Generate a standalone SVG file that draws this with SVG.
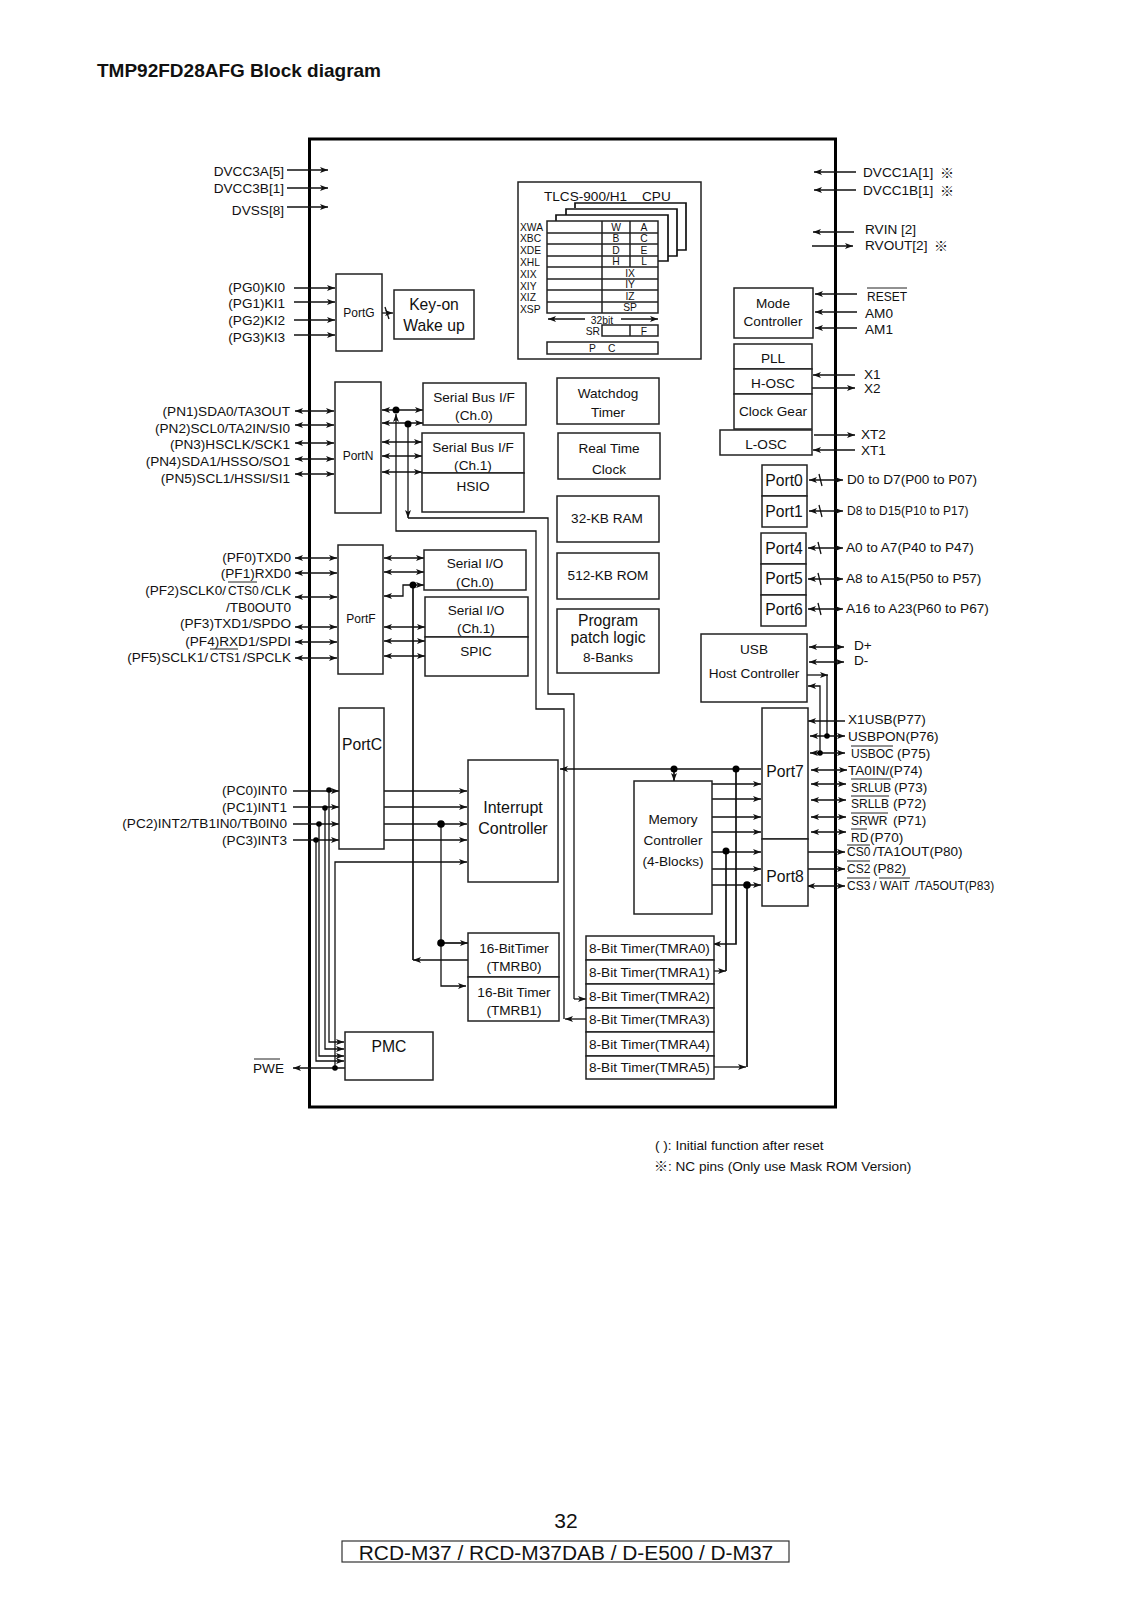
<svg xmlns="http://www.w3.org/2000/svg" width="1132" height="1600" viewBox="0 0 1132 1600">
<style>
text{font-family:"Liberation Sans",Arial,sans-serif;font-size:13.6px;fill:#111}
.e{text-anchor:end}.m{text-anchor:middle}
.s10{font-size:10.3px}.s12{font-size:12px}.s13{font-size:13.6px}.s16{font-size:15.7px}
.cjk{font-family:"Noto Sans CJK JP","Liberation Sans",sans-serif;font-size:14px}
.b{fill:#fff;stroke:#222;stroke-width:1.5}
.l{fill:none;stroke:#111;stroke-width:1.3}
.t{stroke-width:1.7}
.a{marker-end:url(#h)}
.d{marker-start:url(#h);marker-end:url(#h)}
.o{fill:none;stroke:#222;stroke-width:1}
circle{fill:#000}
</style>
<defs>
<marker id="h" markerUnits="userSpaceOnUse" markerWidth="10" markerHeight="8" refX="8" refY="3.5" orient="auto-start-reverse"><path d="M0,0.5 L8,3.5 L0,6.5 L2,3.5Z" fill="#111"/></marker>
</defs>
<rect width="1132" height="1600" fill="#fff"/>
<text id="title" x="97" y="76.5" style="font-weight:bold;font-size:19px">TMP92FD28AFG Block diagram</text>
<rect id="chip" x="309.5" y="139" width="526" height="968" fill="#fff" stroke="#000" stroke-width="3"/>

<g id="cpu">
<rect class="b" x="518" y="182" width="183" height="177"/>
<path class="l t" d="M575,208V203H686V250H677M566,215V209H677V256H668M556,221V215H668V261H658"/>
<path class="b" d="M547,221H658V313H547ZM547,233H658M547,244H658M547,256H658M547,267H658M547,279H658M547,290H658M547,302H658M602,221V313M630,221V267"/>
<path class="b" d="M602,325H658V336H602ZM630,325V336"/>
<rect class="b" x="547" y="342" width="111" height="12"/>
<path class="l a" d="M585,319H548"/><path class="l a" d="M621,319H658"/>
<text x="544" y="201">TLCS-900/H1</text><text x="642" y="201">CPU</text>
<text class="s10" x="520" y="231">XWA</text><text class="s10" x="520" y="242">XBC</text><text class="s10" x="520" y="254">XDE</text><text class="s10" x="520" y="266">XHL</text><text class="s10" x="520" y="278">XIX</text><text class="s10" x="520" y="290">XIY</text><text class="s10" x="520" y="301">XIZ</text><text class="s10" x="520" y="313">XSP</text>
<text class="s10 m" x="616" y="231">W</text><text class="s10 m" x="644" y="231">A</text><text class="s10 m" x="616" y="242">B</text><text class="s10 m" x="644" y="242">C</text><text class="s10 m" x="616" y="254">D</text><text class="s10 m" x="644" y="254">E</text><text class="s10 m" x="616" y="265">H</text><text class="s10 m" x="644" y="265">L</text>
<text class="s10 m" x="630" y="277">IX</text><text class="s10 m" x="630" y="288">IY</text><text class="s10 m" x="630" y="300">IZ</text><text class="s10 m" x="630" y="311">SP</text>
<text class="s10 m" x="602" y="324">32bit</text><text class="s10 e" x="600" y="335">SR</text><text class="s10 m" x="644" y="334.5">F</text>
<text class="s10" x="589" y="352">P</text><text class="s10" x="608" y="352">C</text>
</g>

<g id="connectors">
<path class="l t a" d="M287,170H328"/><path class="l t a" d="M287,188H328"/><path class="l t a" d="M287,207H328"/>
<path class="l t a" d="M294,288H335"/><path class="l t a" d="M294,302H335"/><path class="l t a" d="M294,320H335"/><path class="l t a" d="M294,335H335"/>
<path class="l a" d="M382,313H393"/><path class="l" d="M385,307L389,319"/>
<path class="l t d" d="M295,411H334"/><path class="l t d" d="M295,425H334"/><path class="l t d" d="M295,443H334"/><path class="l t d" d="M295,459H334"/><path class="l t d" d="M295,474H334"/>
<path class="l d" d="M382,410H423"/><path class="l d" d="M382,423H423"/><path class="l d" d="M382,442H422"/><path class="l d" d="M382,456H422"/><path class="l d" d="M382,472H422"/>
<path class="l a" d="M564,1019V709H536V531H396V414"/>
<path class="l" d="M408,518H548V694H574V999"/>
<path class="l a" d="M408,424V518"/>
<path class="l a" d="M574,999H586"/>
<path class="l a" d="M586,1019H565"/>
<path class="l t d" d="M295,558H337"/><path class="l t d" d="M295,573H337"/><path class="l t d" d="M295,597H337"/><path class="l t d" d="M295,627H337"/><path class="l t d" d="M295,642H337"/><path class="l t d" d="M295,658H337"/>
<path class="l d" d="M384,558H424"/><path class="l d" d="M384,572H424"/>
<path class="l d" d="M384,596H403V585H424"/>
<path class="l d" d="M384,627H425"/><path class="l d" d="M384,641H425"/><path class="l d" d="M384,656H425"/>
<path class="l a" d="M468,960H413"/><path class="l t" d="M413,585V960"/>
<path class="l t a" d="M293,791H339"/><path class="l t a" d="M293,807H339"/><path class="l t a" d="M293,824H339"/><path class="l t a" d="M293,840H339"/>
<path class="l a" d="M329,790V1042H344"/><path class="l a" d="M325,808V1049H344"/><path class="l a" d="M319,824V1056H344"/><path class="l a" d="M316,840V1061H344"/>
<path class="l t a" d="M345,1068H293"/>
<path class="l a" d="M335,1068V862H467"/>
<path class="l t a" d="M383,791H467"/><path class="l t a" d="M383,807H467"/><path class="l t a" d="M384,824H467"/><path class="l t a" d="M384,840H467"/>
<path class="l a" d="M441,824V986H466"/><path class="l t a" d="M441,943H468"/>
<path class="l t a" d="M761,769H560"/><path class="l t a" d="M674,769V781"/>
<path class="l a" d="M712,784H761"/><path class="l a" d="M712,799H761"/><path class="l a" d="M712,817H761"/><path class="l a" d="M712,832H761"/><path class="l a" d="M712,852H761"/><path class="l a" d="M712,869H761"/><path class="l t a" d="M712,885H761"/>
<path class="l t a" d="M736,769V944H713"/>
<path class="l t" d="M726,851V971"/><path class="l a" d="M714,971H726"/>
<path class="l t" d="M747,885V1067"/><path class="l a" d="M714,1067H746"/>
<path class="l d" d="M809,647H844"/><path class="l d" d="M809,662H844"/>
<path class="l" d="M827,736V675"/>
<path class="l a" d="M807,675H828"/>
<path class="l a" d="M820,753V686H808"/>
<path class="l t a" d="M845,721H808"/>
<path class="l t d" d="M810,736H845"/><path class="l t d" d="M810,753H845"/>
<path class="l t d" d="M811,770H847"/><path class="l t d" d="M811,784H846"/><path class="l t d" d="M811,800H846"/><path class="l t d" d="M811,817H846"/><path class="l t d" d="M811,832H846"/>
<path class="l t a" d="M808,852H845"/><path class="l t a" d="M808,869H845"/><path class="l t d" d="M807,886H845"/>
<path class="l t a" d="M856,172H814"/><path class="l t a" d="M856,190H814"/><path class="l t a" d="M854,232H813"/><path class="l t a" d="M812,246H853"/>
<path class="l t a" d="M857,294H815"/><path class="l t a" d="M857,312H815"/><path class="l t a" d="M857,328H815"/>
<path class="l t a" d="M855,375H813"/><path class="l t a" d="M812,388H855"/><path class="l t a" d="M814,435H855"/><path class="l t a" d="M855,450H813"/>
<path class="l t d" d="M809,480H843"/><path class="l t d" d="M809,511H843"/><path class="l t d" d="M808,548H843"/><path class="l t d" d="M808,579H843"/><path class="l t d" d="M808,609H843"/>
<path class="l" d="M819,474L822,486M819,505L822,517M818,542L821,554M818,573L821,585M818,603L821,615"/>
<circle cx="396" cy="410" r="3.5"/><circle cx="408" cy="424" r="3.5"/><circle cx="413" cy="585" r="3.5"/>
<circle cx="329" cy="790" r="2.8"/><circle cx="325" cy="808" r="2.8"/><circle cx="319" cy="824" r="2.8"/><circle cx="316" cy="840" r="2.8"/><circle cx="335" cy="1068" r="2.8"/>
<circle cx="441" cy="824" r="3.8"/><circle cx="441" cy="943" r="3.8"/>
<circle cx="674" cy="769" r="3.5"/><circle cx="736" cy="769" r="3.5"/><circle cx="726" cy="851" r="3.5"/><circle cx="747" cy="885" r="3.8"/>
<circle cx="827" cy="736" r="2.8"/><circle cx="820" cy="753" r="2.8"/>
</g>

<g id="portg"><rect class="b" x="336" y="274" width="46" height="77"/><text class="m s12" x="359" y="317">PortG</text></g>
<g id="keyon"><rect class="b" x="394" y="290" width="80" height="49"/><text class="m s16" x="434" y="310">Key-on</text><text class="m s16" x="434" y="331">Wake up</text></g>
<g id="portn"><rect class="b" x="335" y="382" width="46" height="131"/><text class="m s12" x="358" y="460">PortN</text></g>
<g id="sbi0"><rect class="b" x="423" y="383" width="103" height="42"/><text class="m" x="474" y="402">Serial Bus I/F</text><text class="m" x="474" y="420">(Ch.0)</text></g>
<g id="sbi1"><rect class="b" x="422" y="433" width="102" height="40"/><text class="m" x="473" y="452">Serial Bus I/F</text><text class="m" x="473" y="470">(Ch.1)</text></g>
<g id="hsio"><rect class="b" x="422" y="473" width="102" height="39"/><text class="m" x="473" y="491">HSIO</text></g>
<g id="portf"><rect class="b" x="338" y="545" width="45" height="129"/><text class="m s12" x="361" y="623">PortF</text></g>
<g id="sio0"><rect class="b" x="424" y="550" width="102" height="40"/><text class="m" x="475" y="568">Serial I/O</text><text class="m" x="475" y="587">(Ch.0)</text></g>
<g id="sio1"><rect class="b" x="425" y="597" width="103" height="40"/><text class="m" x="476" y="615">Serial I/O</text><text class="m" x="476" y="633">(Ch.1)</text></g>
<g id="spic"><rect class="b" x="425" y="637" width="103" height="39"/><text class="m" x="476" y="656">SPIC</text></g>
<g id="watchdog"><rect class="b" x="557" y="378" width="102" height="46"/><text class="m" x="608" y="398">Watchdog</text><text class="m" x="608" y="417">Timer</text></g>
<g id="rtc"><rect class="b" x="558" y="433" width="102" height="46"/><text class="m" x="609" y="453">Real Time</text><text class="m" x="609" y="474">Clock</text></g>
<g id="ram"><rect class="b" x="557" y="496" width="102" height="46"/><text class="m" x="607" y="523">32-KB RAM</text></g>
<g id="rom"><rect class="b" x="557" y="553" width="102" height="46"/><text class="m" x="608" y="580">512-KB ROM</text></g>
<g id="patch"><rect class="b" x="557" y="609" width="102" height="64"/><text class="m s16" x="608" y="626">Program</text><text class="m s16" x="608" y="643">patch logic</text><text class="m" x="608" y="662">8-Banks</text></g>
<g id="portc"><rect class="b" x="339" y="708" width="45" height="141"/><text class="m s16" x="362" y="750">PortC</text></g>
<g id="intc"><rect class="b" x="468" y="760" width="90" height="122"/><text class="m" style="font-size:16px" x="513" y="813">Interrupt</text><text class="m" style="font-size:16px" x="513" y="834">Controller</text></g>
<g id="tmrb0"><rect class="b" x="468" y="933" width="91" height="44"/><text class="m" x="514" y="953">16-BitTimer</text><text class="m" x="514" y="971">(TMRB0)</text></g>
<g id="tmrb1"><rect class="b" x="468" y="977" width="91" height="44"/><text class="m" x="514" y="997">16-Bit Timer</text><text class="m" x="514" y="1015">(TMRB1)</text></g>
<g id="pmc"><rect class="b" x="345" y="1032" width="88" height="48"/><text class="m s16" x="389" y="1052">PMC</text></g>
<g id="memc"><rect class="b" x="634" y="781" width="78" height="133"/><text class="m" x="673" y="824">Memory</text><text class="m" x="673" y="845">Controller</text><text class="m" x="673" y="866">(4-Blocks)</text></g>
<g id="tmra0"><rect class="b" x="586" y="936" width="128" height="24"/><text class="s13" x="589" y="953">8-Bit Timer(TMRA0)</text></g>
<g id="tmra1"><rect class="b" x="586" y="960" width="128" height="24"/><text class="s13" x="589" y="977">8-Bit Timer(TMRA1)</text></g>
<g id="tmra2"><rect class="b" x="586" y="984" width="128" height="24"/><text class="s13" x="589" y="1001">8-Bit Timer(TMRA2)</text></g>
<g id="tmra3"><rect class="b" x="586" y="1008" width="128" height="24"/><text class="s13" x="589" y="1024">8-Bit Timer(TMRA3)</text></g>
<g id="tmra4"><rect class="b" x="586" y="1032" width="128" height="24"/><text class="s13" x="589" y="1049">8-Bit Timer(TMRA4)</text></g>
<g id="tmra5"><rect class="b" x="586" y="1056" width="128" height="23"/><text class="s13" x="589" y="1072">8-Bit Timer(TMRA5)</text></g>
<g id="mode"><rect class="b" x="734" y="288" width="79" height="50"/><text class="m s13" x="773" y="308">Mode</text><text class="m s13" x="773" y="326">Controller</text></g>
<g id="pll"><rect class="b" x="734" y="344" width="78" height="25"/><text class="m s13" x="773" y="363">PLL</text></g>
<g id="hosc"><rect class="b" x="734" y="369" width="78" height="25"/><text class="m s13" x="773" y="388">H-OSC</text></g>
<g id="clock"><rect class="b" x="734" y="394" width="78" height="35"/><text class="m s13" x="773" y="416">Clock Gear</text></g>
<g id="losc"><rect class="b" x="720" y="430" width="92" height="25"/><text class="m s13" x="766" y="449">L-OSC</text></g>
<g id="port0"><rect class="b" x="762" y="465" width="45" height="31"/><text class="m s16" x="784" y="486">Port0</text></g>
<g id="port1"><rect class="b" x="762" y="496" width="45" height="31"/><text class="m s16" x="784" y="517">Port1</text></g>
<g id="port4"><rect class="b" x="761" y="533" width="45" height="31"/><text class="m s16" x="784" y="554">Port4</text></g>
<g id="port5"><rect class="b" x="761" y="564" width="45" height="31"/><text class="m s16" x="784" y="584">Port5</text></g>
<g id="port6"><rect class="b" x="761" y="595" width="45" height="31"/><text class="m s16" x="784" y="615">Port6</text></g>
<g id="usb"><rect class="b" x="701" y="634" width="106" height="68"/><text class="m" x="754" y="654">USB</text><text class="m" x="754" y="678">Host Controller</text></g>
<g id="port7"><rect class="b" x="762" y="708" width="46" height="131"/><text class="m s16" x="785" y="777">Port7</text></g>
<g id="port8"><rect class="b" x="762" y="839" width="46" height="67"/><text class="m s16" x="785" y="882">Port8</text></g>

<g id="pin-labels">
<text class="e" x="284" y="176">DVCC3A[5]</text><text class="e" x="284" y="193">DVCC3B[1]</text><text class="e" x="284" y="215">DVSS[8]</text>
<text class="e" x="285" y="292">(PG0)KI0</text><text class="e" x="285" y="308">(PG1)KI1</text><text class="e" x="285" y="325">(PG2)KI2</text><text class="e" x="285" y="342">(PG3)KI3</text>
<text class="e" x="290" y="416">(PN1)SDA0/TA3OUT</text><text class="e" x="290" y="433">(PN2)SCL0/TA2IN/SI0</text><text class="e" x="290" y="449">(PN3)HSCLK/SCK1</text><text class="e" x="290" y="466">(PN4)SDA1/HSSO/SO1</text><text class="e" x="290" y="483">(PN5)SCL1/HSSI/SI1</text>
<text class="e" x="291" y="562">(PF0)TXD0</text><text class="e" x="291" y="578">(PF1)RXD0</text>
<text class="e" x="226" y="595">(PF2)SCLK0/</text><text class="s12" x="228" y="595">CTS0</text><text class="e" x="291" y="595">/CLK</text><path class="o" d="M228,582H257"/>
<text class="e" x="291" y="612">/TB0OUT0</text><text class="e" x="291" y="628">(PF3)TXD1/SPDO</text><text class="e" x="291" y="646">(PF4)RXD1/SPDI</text>
<text class="e" x="208" y="662">(PF5)SCLK1/</text><text class="s12" x="210" y="662">CTS1</text><text class="e" x="291" y="662">/SPCLK</text><path class="o" d="M210,649H238"/>
<text class="e" x="287" y="795">(PC0)INT0</text><text class="e" x="287" y="812">(PC1)INT1</text><text class="e" x="287" y="828">(PC2)INT2/TB1IN0/TB0IN0</text><text class="e" x="287" y="845">(PC3)INT3</text>
<text x="253" y="1073">PWE</text><path class="o" d="M254,1059H280"/>
<text x="863" y="177">DVCC1A[1]</text><text class="cjk" x="940" y="177.5">※</text><text x="863" y="195">DVCC1B[1]</text><text class="cjk" x="940" y="195.5">※</text>
<text x="865" y="234">RVIN [2]</text><text x="865" y="250">RVOUT[2]</text><text class="cjk" x="934" y="250.5">※</text>
<text class="s12" x="867" y="301">RESET</text><path class="o" d="M867,288H907"/>
<text x="865" y="318">AM0</text><text x="865" y="334">AM1</text>
<text x="864" y="379">X1</text><text x="864" y="393">X2</text><text x="861" y="439">XT2</text><text x="861" y="455">XT1</text>
<text x="847" y="484">D0 to D7(P00 to P07)</text><text class="s12" x="847" y="515">D8 to D15(P10 to P17)</text>
<text x="846" y="552">A0 to A7(P40 to P47)</text><text x="846" y="583">A8 to A15(P50 to P57)</text><text x="846" y="613">A16 to A23(P60 to P67)</text>
<text x="854" y="650">D+</text><text x="854" y="665">D-</text>
<text x="848" y="724">X1USB(P77)</text><text x="848" y="741">USBPON(P76)</text>
<text class="s12" x="851" y="758">USBOC</text><text x="897" y="758">(P75)</text><path class="o" d="M851,746H893"/>
<text x="848" y="775">TA0IN/(P74)</text>
<text class="s12" x="851" y="792">SRLUB</text><text x="894" y="792">(P73)</text><path class="o" d="M851,779H891"/>
<text class="s12" x="851" y="808">SRLLB</text><text x="893" y="808">(P72)</text><path class="o" d="M851,796H889"/>
<text class="s12" x="851" y="825">SRWR</text><text x="893" y="825">(P71)</text><path class="o" d="M851,813H888"/>
<text class="s12" x="851" y="842">RD</text><text x="870" y="842">(P70)</text><path class="o" d="M851,829H867"/>
<text class="s12" x="847" y="856">CS0</text><text x="873" y="856">/TA1OUT(P80)</text><path class="o" d="M847,845H870"/>
<text class="s12" x="847" y="873">CS2</text><text x="873" y="873">(P82)</text><path class="o" d="M847,861H870"/>
<text class="s12" x="847" y="890">CS3</text><text class="s12" x="873" y="890">/</text><text class="s12" x="880" y="890">WAIT</text><text class="s12" x="915" y="890">/TA5OUT(P83)</text><path class="o" d="M847,878H870M879,878H910"/>
</g>

<g id="notes">
<text class="s13" x="655" y="1150">( ): Initial function after reset</text>
<text class="cjk" x="654" y="1171">※</text><text class="s13" x="668" y="1171">: NC pins (Only use Mask ROM Version)</text>
</g>
<g id="footer">
<text class="m" style="font-size:21px" x="566" y="1528">32</text>
<rect x="342" y="1541" width="447" height="21" fill="#fff" stroke="#333" stroke-width="1.2"/>
<text class="m" style="font-size:20.9px" x="566" y="1560">RCD-M37 / RCD-M37DAB / D-E500 / D-M37</text>
</g>
</svg>
